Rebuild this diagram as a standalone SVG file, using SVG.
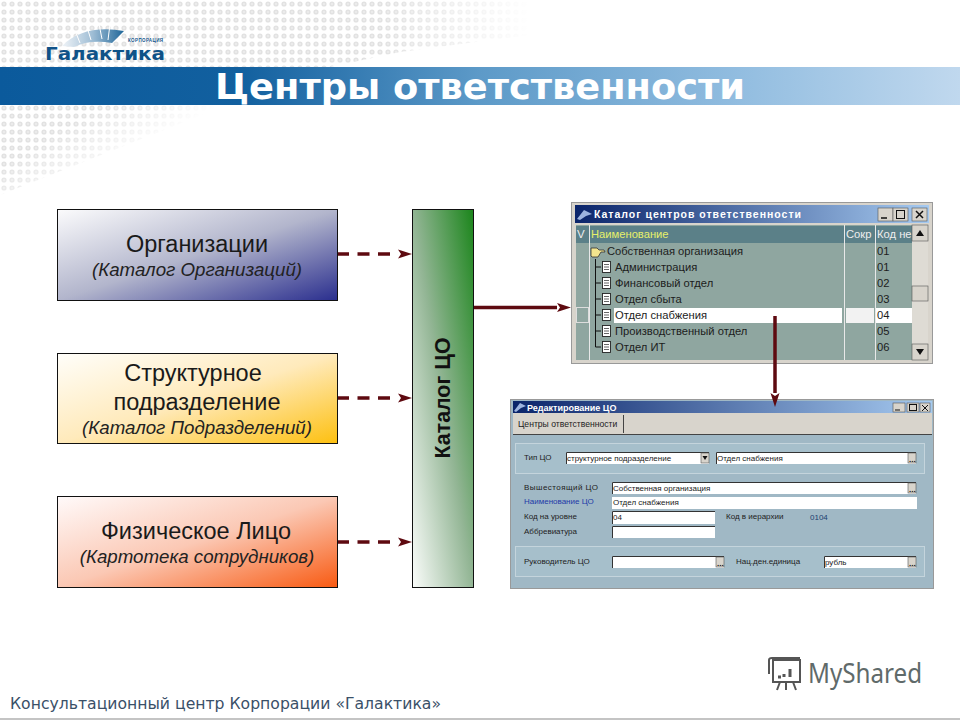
<svg xmlns="http://www.w3.org/2000/svg" width="960" height="720" viewBox="0 0 960 720">
<style>
text{font-family:"Liberation Sans",Arial,sans-serif}
.box{stroke:#111;stroke-width:1}
.t1{font-size:23.500px;fill:#1a1a1a;text-anchor:middle}
.t2{font-size:18.700px;fill:#222;text-anchor:middle;font-style:italic}
.dash{stroke:#5e0a10;stroke-width:3.500;stroke-dasharray:12 8.500;fill:none}
.line{stroke:#5e0a10;stroke-width:3.500;fill:none}
.win{font-size:11.200px;fill:#1c1c1c}
.frm{font-size:8px;fill:#222}
.fld{fill:#fff}
.ins{stroke:#333;stroke-width:1;fill:none}
.btn{fill:#d8d4cc;stroke:#555;stroke-width:.6}
.dd{font-size:8px;font-weight:700;fill:#111}
</style>
<defs>
<pattern id="dots" width="8" height="8" patternUnits="userSpaceOnUse"><circle cx="4" cy="4" r="2.600" fill="#e2e2e2"/><circle cx="4" cy="4" r="1" fill="#efefef"/></pattern>
<linearGradient id="band" x1="0" x2="1" y1="0" y2="0"><stop offset="0" stop-color="#0b5a9c"/><stop offset=".25" stop-color="#12609f"/><stop offset=".5" stop-color="#5d9ac8"/><stop offset=".77" stop-color="#92bde0"/><stop offset="1" stop-color="#c0d8ee"/></linearGradient>
<linearGradient id="g1" x1="0" x2="1" y1="0" y2="1"><stop offset="0" stop-color="#fbfbfc"/><stop offset=".5" stop-color="#b2b5cc"/><stop offset="1" stop-color="#2a2e8e"/></linearGradient>
<linearGradient id="g2" x1="0" x2="1" y1="0" y2="1"><stop offset="0" stop-color="#fffefa"/><stop offset=".5" stop-color="#ffeabb"/><stop offset="1" stop-color="#fdc010"/></linearGradient>
<linearGradient id="g3" x1="0" x2="1" y1="0" y2="1"><stop offset="0" stop-color="#fffafa"/><stop offset=".5" stop-color="#fbc8b4"/><stop offset="1" stop-color="#f85a12"/></linearGradient>
<linearGradient id="g4" x1="0" x2="1" y1="1" y2="0"><stop offset="0" stop-color="#fbfdfb"/><stop offset=".5" stop-color="#92b594"/><stop offset="1" stop-color="#1b851b"/></linearGradient>
<linearGradient id="tb" x1="0" x2="1" y1="0" y2="0"><stop offset="0" stop-color="#0a246a"/><stop offset="1" stop-color="#a6caf0"/></linearGradient>
<linearGradient id="arc" x1="0" x2="1" y1="0" y2="0"><stop offset="0" stop-color="#f0f4f8"/><stop offset=".5" stop-color="#9dbcd4"/><stop offset="1" stop-color="#1f6699"/></linearGradient>
<linearGradient id="fadeTop" gradientUnits="userSpaceOnUse" x1="380" y1="0" x2="530" y2="0"><stop offset="0" stop-color="#fff" stop-opacity="0"/><stop offset="1" stop-color="#fff"/></linearGradient>
<linearGradient id="fadeLow" gradientUnits="userSpaceOnUse" x1="90" y1="110" x2="125" y2="165"><stop offset="0" stop-color="#fff" stop-opacity="0"/><stop offset="1" stop-color="#fff"/></linearGradient>
<marker id="ah" viewBox="0 0 14 10" refX="0" refY="5" markerWidth="14" markerHeight="10" markerUnits="userSpaceOnUse" orient="auto"><path d="M0 .5L14 5L0 9.500L3 5Z" fill="#5e0a10"/></marker>
</defs>
<rect width="960" height="720" fill="#fff"/>
<path d="M0 0H530V35L400 52L330 67H0Z" fill="url(#dots)"/>
<rect x="300" y="0" width="240" height="67" fill="url(#fadeTop)"/>
<path d="M0 104H230L0 195Z" fill="url(#dots)"/>
<path d="M0 104H240V200H0Z" fill="url(#fadeLow)"/>
<g id="logo">
<path d="M62 46Q84 24 124 31L112 43Q90 39 74 47Z" fill="url(#arc)"/>
<path d="M76 33L80 43M87 27L91 40M99 24L102 39M110 24L108 40" stroke="#fff" stroke-width="1"/>
<text x="45" y="60" font-size="18" font-weight="700" fill="#0f5288" style="font-family:'DejaVu Sans',sans-serif" textLength="120" lengthAdjust="spacingAndGlyphs">Галактика</text>
<text x="128" y="42" font-size="4.500" font-weight="700" fill="#0f5288" textLength="35">КОРПОРАЦИЯ</text>
</g>
<rect x="0" y="67" width="960" height="38" fill="url(#band)"/>
<text x="215" y="99" font-size="36" font-weight="700" fill="#fff" style="font-family:'DejaVu Sans',sans-serif" textLength="530" lengthAdjust="spacingAndGlyphs">Центры ответственности</text>
<g id="connectors">
<line class="dash" x1="337" y1="254" x2="398" y2="254" marker-end="url(#ah)"/>
<line class="dash" x1="337" y1="398" x2="398" y2="398" marker-end="url(#ah)"/>
<line class="dash" x1="337" y1="542" x2="398" y2="542" marker-end="url(#ah)"/>
<line class="line" x1="474" y1="307.500" x2="557" y2="307.500" marker-end="url(#ah)"/>
</g>
<g id="n1"><rect class="box" x="57.500" y="209.500" width="280" height="91" fill="url(#g1)"/><text class="t1" x="197" y="252">Организации</text><text class="t2" x="197" y="276">(Каталог Организаций)</text></g>
<g id="n2"><rect class="box" x="57.500" y="353.500" width="280" height="90" fill="url(#g2)"/><text class="t1" x="193" y="381">Структурное</text><text class="t1" x="197" y="410">подразделение</text><text class="t2" x="197" y="434">(Каталог Подразделений)</text></g>
<g id="n3"><rect class="box" x="57.500" y="496.500" width="280" height="91" fill="url(#g3)"/><text class="t1" x="196" y="539">Физическое Лицо</text><text class="t2" x="197" y="563">(Картотека сотрудников)</text></g>
<g id="n4"><rect class="box" x="412.500" y="209.500" width="61" height="378" fill="url(#g4)"/><text x="450" y="398" font-size="21.400" font-weight="700" fill="#111" text-anchor="middle" transform="rotate(-90 450 398)">Каталог ЦО</text></g>
<g id="win1">
<rect x="571.500" y="202.500" width="361" height="161" fill="#d8d4cc" stroke="#999"/>
<rect x="575" y="205" width="354" height="18" fill="url(#tb)"/>
<path d="M577 219L584 210L592 214L586 216L580 220Z" fill="#9db4e0"/>
<text x="594" y="218" font-size="10.500" font-weight="700" fill="#fff" textLength="207">Каталог центров ответственности</text>
<rect x="878" y="208" width="15" height="13" class="btn"/><rect x="893" y="208" width="15" height="13" class="btn"/><rect x="912" y="208" width="15" height="13" class="btn"/>
<path d="M881 218H887" stroke="#111" stroke-width="1.500"/><rect x="896.500" y="210.500" width="8" height="8" fill="none" stroke="#111"/><path d="M916 211L923 218M923 211L916 218" stroke="#111" stroke-width="1.500"/>
<rect x="576" y="225" width="336" height="135" fill="#8fa6a0"/>
<rect x="576" y="226" width="336" height="17" fill="#5b8088"/>
<path d="M589.500 225V360M844.500 225V360M875.500 225V360" stroke="#e8e8e8" fill="none"/>
<text x="577" y="238" font-size="11.500" fill="#eee">V</text>
<text x="591" y="238" font-size="11.200" fill="#e7f06a">Наименование</text>
<text x="846" y="238" font-size="11.200" fill="#eee">Сокр</text>
<text x="877" y="238" font-size="11.200" fill="#eee">Код не</text>
<rect x="614" y="308" width="228" height="15" fill="#fff"/><rect x="846" y="308" width="28" height="15" fill="#f2f2f2"/><rect x="876" y="308" width="36" height="15" fill="#fff"/><rect x="576.500" y="307.500" width="12" height="15" fill="none" stroke="#ddd"/>
<path d="M595.500 259V347M595.500 267H601M595.500 283H601M595.500 299H601M595.500 315H601M595.500 331H601M595.500 347H601" stroke="#111" fill="none"/>
<path d="M591 256V248H597L599 250H604L605 252H601L598 257H592Z" fill="#f3e58e" stroke="#333" stroke-width=".8"/>
<g fill="#fff" stroke="#222" stroke-width=".9"><rect x="602.500" y="261.500" width="8" height="11"/><rect x="602.500" y="277.500" width="8" height="11"/><rect x="602.500" y="293.500" width="8" height="11"/><rect x="602.500" y="309.500" width="8" height="11"/><rect x="602.500" y="325.500" width="8" height="11"/><rect x="602.500" y="341.500" width="8" height="11"/></g>
<path d="M604 264.500H609M604 267H609M604 269.500H609M604 280.500H609M604 283H609M604 285.500H609M604 296.500H609M604 299H609M604 301.500H609M604 312.500H609M604 315H609M604 317.500H609M604 328.500H609M604 331H609M604 333.500H609M604 344.500H609M604 347H609M604 349.500H609" stroke="#222" stroke-width=".7"/>
<g class="win"><text x="607" y="255">Собственная организация</text><text x="615" y="271">Администрация</text><text x="615" y="287">Финансовый отдел</text><text x="615" y="303">Отдел сбыта</text><text x="615" y="319">Отдел снабжения</text><text x="615" y="335">Производственный отдел</text><text x="615" y="351">Отдел ИТ</text>
<text x="877" y="255">01</text><text x="877" y="271">01</text><text x="877" y="287">02</text><text x="877" y="303">03</text><text x="877" y="319">04</text><text x="877" y="335">05</text><text x="877" y="351">06</text></g>
<rect x="912" y="225" width="16" height="135" fill="#dedbd4"/>
<rect x="912" y="225" width="16" height="16" class="btn"/><rect x="912" y="286" width="16" height="15" class="btn"/><rect x="912" y="344" width="16" height="16" class="btn"/>
<path d="M916 236L920 230L924 236ZM916 349L920 355L924 349Z" fill="#111"/>
</g>
<g id="win2">
<rect x="510.500" y="399.500" width="423" height="189" fill="#a0b8c5" stroke="#999"/>
<rect x="513" y="401" width="419" height="12" fill="url(#tb)"/>
<path d="M514 411L520 403L526 406L521 408L516 412Z" fill="#9db4e0"/>
<text x="527" y="411" font-size="9" font-weight="700" fill="#fff">Редактирование ЦО</text>
<rect x="513" y="413" width="419" height="21" fill="#d8d4cc"/><path d="M513 434.500H932" stroke="#444"/><path d="M623.500 415V433" stroke="#444"/>
<text x="518" y="427" font-size="8.600" fill="#222">Центры ответственности</text>
<rect x="893" y="403" width="12" height="9" class="btn"/><rect x="907" y="403" width="12" height="9" class="btn"/><rect x="920" y="403" width="10" height="9" class="btn"/>
<path d="M895 410H900" stroke="#111"/><rect x="909.500" y="404.500" width="7" height="6" fill="none" stroke="#111"/><path d="M922 405L928 411M928 405L922 411" stroke="#111"/>
<rect x="515.500" y="443.500" width="409" height="30" fill="#a6bfcb" stroke="#c4d4dc"/>
<rect x="515.500" y="546.500" width="409" height="30" fill="#a6bfcb" stroke="#c4d4dc"/>
<rect class="fld" x="566" y="452" width="143" height="12"/><rect class="fld" x="716" y="452" width="200" height="12"/>
<rect class="fld" x="612" y="482" width="304" height="12"/><rect class="fld" x="612" y="497" width="305" height="12"/><rect class="fld" x="612" y="511" width="103" height="13"/><rect class="fld" x="612" y="526" width="103" height="12"/><rect class="fld" x="612" y="556" width="112" height="12"/><rect class="fld" x="824" y="556" width="92" height="12"/>
<path class="ins" d="M566.500 464V452.500H709M716.500 464V452.500H916M612.500 494V482.500H916M612.500 524V511.500H715M612.500 538V526.500H715M612.500 568V556.500H724M824.500 568V556.500H916"/>
<g class="btn"><rect x="701" y="453" width="8" height="10"/><rect x="908" y="453" width="8" height="10"/><rect x="908" y="483" width="8" height="10"/><rect x="716" y="557" width="8" height="10"/><rect x="908" y="557" width="8" height="10"/></g>
<path d="M702.500 456H707.500L705 460Z" fill="#111"/>
<g class="dd"><text x="909" y="462">...</text><text x="909" y="492">...</text><text x="717" y="566">...</text><text x="909" y="566">...</text></g>
<g class="frm">
<text x="524" y="460">Тип ЦО</text><text x="567" y="461">структурное подразделение</text><text x="717" y="461">Отдел снабжения</text>
<text x="524" y="490" textLength="74">Вышестоящий ЦО</text><text x="613" y="491">Собственная организация</text>
<text x="524" y="504" style="fill:#1f3aa8">Наименование ЦО</text><text x="613" y="505">Отдел снабжения</text>
<text x="524" y="519">Код на уровне</text><text x="613" y="520">04</text><text x="726" y="519">Код в иерархии</text><text x="810" y="520" style="fill:#1d3f70">0104</text>
<text x="524" y="534">Аббревиатура</text>
<text x="524" y="564">Руководитель ЦО</text><text x="736" y="564">Нац.ден.единица</text><text x="825" y="565">рубль</text>
</g>
</g>
<g id="conn2"><line class="line" x1="775" y1="316" x2="775" y2="393" marker-end="url(#ah)"/></g>
<g id="watermark">
<rect x="773" y="660" width="27" height="22" fill="#fff" stroke="#555" stroke-width="2"/>
<path d="M769 674V660Q769 658 772 658H800M780 682L777 690M786 682V690M793 682L796 690" stroke="#555" stroke-width="2" fill="none"/>
<path d="M778 677H781M784 677V674M790 677V669" stroke="#555" stroke-width="3"/>
<text x="808" y="683" font-size="27" fill="#5f6a6a" style="font-family:'Noto Sans',sans-serif" textLength="114" lengthAdjust="spacingAndGlyphs">MyShared</text>
</g>
<text x="10" y="709" font-size="15" fill="#3a5068" style="font-family:'DejaVu Sans',sans-serif" textLength="431" lengthAdjust="spacingAndGlyphs">Консультационный центр Корпорации «Галактика»</text>
<rect x="0" y="718" width="960" height="2" fill="#c4c4c4"/>
</svg>
